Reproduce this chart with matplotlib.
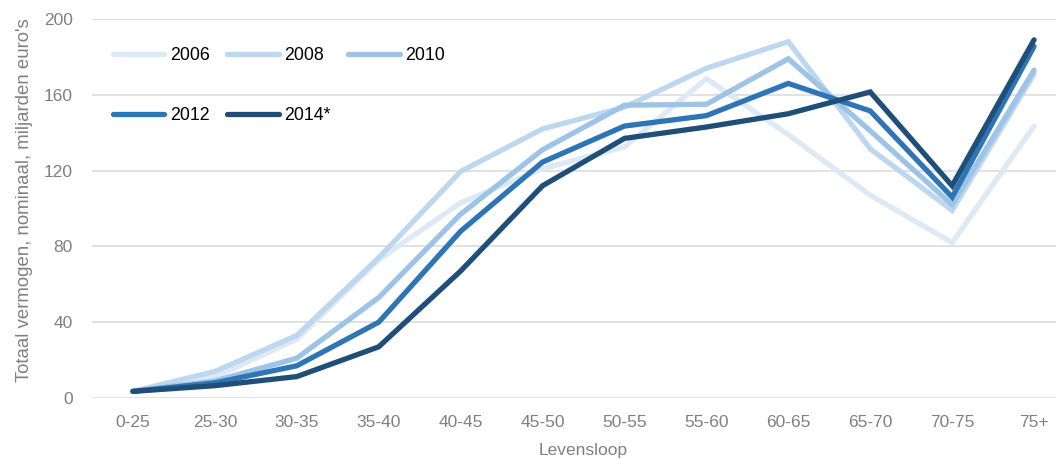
import matplotlib.pyplot as plt

leeftijd = ["0-25", "25-30", "30-35", "35-40", "40-45", "45-50",
            "50-55", "55-60", "60-65", "65-70", "70-75", "75+"]

v2006 = [3.5, 11, 31, 73, 103, 121, 132.5, 168.5, 139, 107, 82, 143.5]
v2008 = [3.5, 14, 33, 74, 119.5, 142, 153.5, 174, 188, 131.5, 99, 171]
v2010 = [3.5, 9, 21, 53, 97, 131, 154.5, 155, 179, 141, 102, 173]
v2012 = [3.5, 8, 17, 40, 88, 124.5, 143.5, 149, 166, 151.5, 106, 185.5]
v2014 = [3.5, 6.5, 11.3, 27, 67, 112, 137, 143, 150, 161.5, 112, 189]

jaren = ["2006", "2008", "2010", "2012", "2014*"]
reeksen = [v2006, v2008, v2010, v2012, v2014]
kleuren = ["#dde9f5", "#bdd7ee", "#9dc3e6", "#2e75b6", "#1f4e79"]

plt.rcParams['font.family'] = ['Liberation Sans', 'DejaVu Sans']

fig = plt.figure(figsize=(10.56, 4.59), dpi=100)
ax = fig.add_axes([92 / 1056, 61 / 459, (1075 - 92) / 1056, 379 / 459])

x = list(range(len(leeftijd)))
lijnen = []
for jaar, vals, kleur in zip(jaren, reeksen, kleuren):
    ln, = ax.plot(x, vals, color=kleur, lw=3.8, label=jaar,
                  solid_capstyle='round', solid_joinstyle='miter')
    lijnen.append(ln)

ax.set_xlim(-0.5, 11.5)
ax.set_ylim(0, 200)
ax.set_yticks([0, 40, 80, 120, 160, 200])
ax.set_xticks(x)
ax.set_xticklabels(leeftijd)
ax.grid(axis='y', color='#d9d9d9', lw=1.1)
ax.set_axisbelow(True)
for s in ax.spines.values():
    s.set_visible(False)
ax.tick_params(length=0, labelsize=12.5, colors='#808080')
ax.tick_params(axis='y', pad=14)
ax.tick_params(axis='x', pad=12)

fig.text(25 / 1056, 1 - 200 / 459, "Totaal vermogen, nominaal, miljarden euro's",
         rotation=90, ha='center', va='center', fontsize=13.4, color='#808080')
fig.text(583 / 1056, 1 - 450 / 459, "Levensloop", ha='center', va='center',
         fontsize=12.5, color='#808080')

# row-major legend: reorder for matplotlib's column filling
volgorde = [0, 3, 1, 4, 2]
leg = fig.legend([lijnen[i] for i in volgorde], [jaren[i] for i in volgorde],
                 ncol=3, frameon=False, loc='upper left',
                 bbox_to_anchor=(104 / 1056, 1 - 38 / 459),
                 fontsize=12.8, handlelength=2.9, handletextpad=0.3,
                 columnspacing=1.0, labelspacing=2.45, borderpad=0)

fig.savefig("out.png", dpi=100)
